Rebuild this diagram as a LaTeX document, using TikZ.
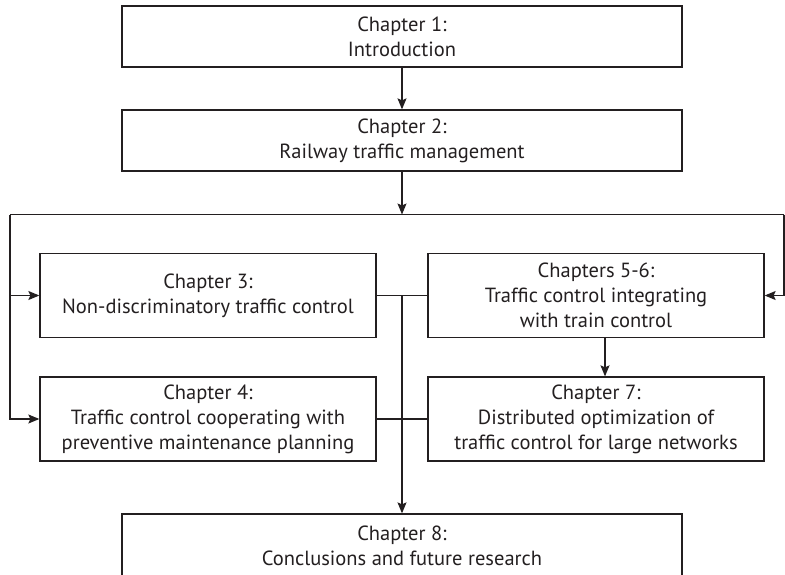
\documentclass[tikz,border=0pt]{standalone}
\usepackage{fontspec}
\setmainfont{PT Sans}
\usetikzlibrary{arrows.meta}
\definecolor{linegray}{HTML}{231F20}
\tikzset{
  chapter/.style={draw=linegray, line width=1.3pt, align=center, inner sep=0pt,
    font=\fontsize{20.5}{25}\selectfont, text=linegray},
  widebox/.style={chapter, minimum width=560pt, minimum height=61pt},
  halfbox/.style={chapter, minimum width=336pt, minimum height=84pt},
  link/.style={draw=linegray, line width=1.2pt},
  >={Stealth[length=11pt,width=9pt,inset=2pt]}
}

\begin{document}
\begin{tikzpicture}[x=1pt, y=1pt, node distance=104pt]
\useasboundingbox (0,0) rectangle (785,-574);

\node[widebox] (ch1) at (402,-36.5) {Chapter 1:\\Introduction};
\node[widebox] (ch2) [below of=ch1] {Chapter 2:\\Railway traffic management};
\node[halfbox] (ch3) [below of=ch2, xshift=-194pt, yshift=-51pt] {Chapter 3:\\Non-discriminatory traffic control};
\node[halfbox] (ch56) [right of=ch3, xshift=284pt] {Chapters 5-6:\\Traffic control integrating\\with train control};
\node[halfbox] (ch4) [below of=ch3, yshift=-19.5pt] {Chapter 4:\\Traffic control cooperating with\\preventive maintenance planning};
\node[halfbox] (ch7) [right of=ch4, xshift=284pt] {Chapter 7:\\Distributed optimization of\\traffic control for large networks};
\node[widebox, minimum height=63pt] (ch8) [below of=ch4, xshift=194pt, yshift=-22.5pt] {Chapter 8:\\Conclusions and future research};

% distribution line under chapter 2
\coordinate (bus) at (402,-214.5);
\coordinate (busL) at (10,-214.5);
\coordinate (busR) at (784,-214.5);

\draw[link,->] (ch1) -- (ch2);
\draw[link,->] (ch2) -- (bus);
\draw[link] (busL) -- (busR);
\draw[link,->] (busL) |- (ch3.west);
\draw[link,->] (busL) |- (ch4.west);
\draw[link,->] (busR) |- (ch56.east);
\draw[link] (ch3.east) -- (ch56.west);
\draw[link] (ch4.east) -- (ch7.west);
\draw[link,->] (ch3.east -| bus) -- (ch8);
\draw[link,->] ([xshift=9pt]ch56.south) -- ([xshift=9pt]ch7.north);
\end{tikzpicture}
\end{document}
